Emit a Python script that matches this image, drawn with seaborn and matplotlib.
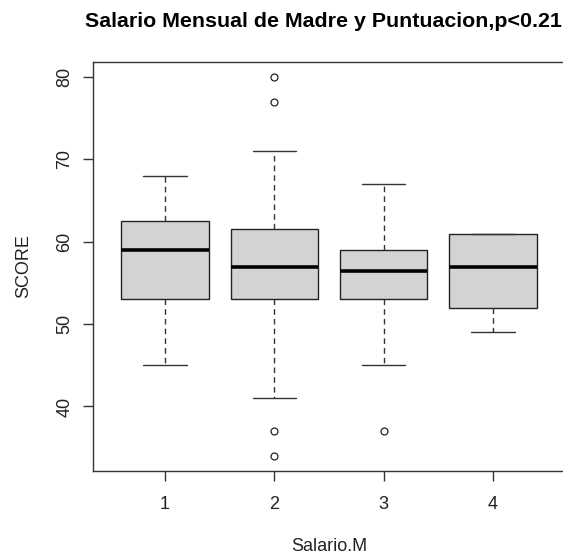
import matplotlib
matplotlib.use("Agg")
import matplotlib.pyplot as plt
import seaborn as sns
import pandas as pd

groups = ["1", "2", "3", "4"]
q1 = [53, 53, 53, 52]
medians = [59, 57, 56.5, 57]
q3 = [62.5, 61.5, 59, 61]
whisker_lo = [45, 41, 45, 49]
whisker_hi = [68, 71, 67, 61]
outliers_lo = [[], [34, 37], [37], []]
outliers_hi = [[], [77, 80], [], []]

# Build a sample per group whose boxplot summary equals the values read above
rows = []
for g, a, m, b, lo, hi, ol, oh in zip(groups, q1, medians, q3, whisker_lo,
                                      whisker_hi, outliers_lo, outliers_hi):
    vals = list(ol) + [lo] + [a] * 10 + [m] * 5 + [b] * 10 + [hi] + list(oh)
    rows += [(g, v) for v in vals]
df = pd.DataFrame(rows, columns=["Salario.M", "SCORE"])

sns.set_style("white")
plt.rcParams["font.family"] = ["Liberation Sans", "DejaVu Sans"]

fig = plt.figure(figsize=(5.63, 5.54), dpi=100)
ax = fig.add_axes([93 / 563, 1 - 471 / 554, (565 - 93) / 563, (471 - 62) / 554])

sns.boxplot(
    data=df, x="Salario.M", y="SCORE", order=groups, ax=ax,
    color="#D3D3D3", saturation=1, width=0.8, linecolor="#222222",
    linewidth=1.0,
    medianprops=dict(color="black", linewidth=2.6),
    whiskerprops=dict(linestyle=(0, (4, 3)), color="#333333", linewidth=1.0),
    capprops=dict(color="#333333", linewidth=1.0),
    flierprops=dict(marker="o", markersize=5, markerfacecolor="white",
                    markeredgecolor="#222222", markeredgewidth=0.9),
)

ax.set_xlim(-0.66, 3.66)
ax.set_ylim(32.16, 81.84)
ax.set_yticks([40, 50, 60, 70, 80])
ax.set_yticklabels(["40", "50", "60", "70", "80"], rotation=90, va="center")

for s in ax.spines.values():
    s.set_visible(True)
    s.set_color("#333333")
    s.set_linewidth(1.0)

ax.tick_params(axis="both", which="both", direction="out", length=7.2,
               width=1.0, color="#333333", labelsize=13, labelcolor="#222222",
               bottom=True, left=True)
ax.tick_params(axis="x", pad=10.5)
ax.tick_params(axis="y", pad=7)

ax.set_xlabel("Salario.M", fontsize=13, color="#222222", labelpad=18)
ax.set_ylabel("SCORE", fontsize=13, color="#222222", labelpad=17)
fig.text(323.5 / 563, 1 - 27 / 554, "Salario Mensual de Madre y Puntuacion,p<0.21",
         fontsize=15.4, fontweight="bold", color="black",
         ha="center", va="baseline")

fig.savefig("out.png", dpi=100)
